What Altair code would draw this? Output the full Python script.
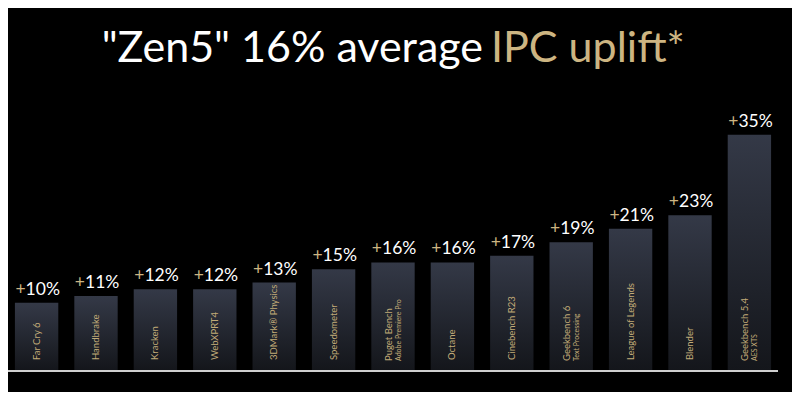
import altair as alt
import pandas as pd

benchmarks = ["Far Cry 6", "Handbrake", "Kracken", "WebXPRT4", "3DMark® Physics",
              "Speedometer", "Puget Bench", "Octane", "Cinebench R23", "Geekbench 6",
              "League of Legends", "Blender", "Geekbench 5.4"]
subtitles = ["", "", "", "", "", "", "Adobe Premiere Pro", "", "", "Text Processing",
             "", "", "AES XTS"]
uplift = [10, 11, 12, 12, 13, 15, 16, 16, 17, 19, 21, 23, 35]
title_white = ['"Zen5" 16% average']
title_gold = ['IPC uplift*']

GOLD = "#cdb582"
LABEL_GOLD = "#c2ab78"
FONT = "Lato"

df = pd.DataFrame({"bench": benchmarks, "sub": subtitles, "uplift": uplift})
df["num"] = df["uplift"].astype(str) + "%"
df["two"] = (df["sub"] != "").astype(int)
df["zero"] = 0

yscale = alt.Scale(domain=[0, 40], nice=False, zero=True)
x_enc = alt.X("bench:N", sort=None, axis=None,
              scale=alt.Scale(paddingInner=0.27, paddingOuter=0.1165))
y_enc = alt.Y("uplift:Q", axis=None, scale=yscale)
y0_enc = alt.Y("zero:Q", axis=None, scale=yscale)

base = alt.Chart(df)

bars = base.mark_bar(
    color=alt.LinearGradient(
        gradient="linear",
        stops=[alt.GradientStop(color="#343947", offset=0),
               alt.GradientStop(color="#14161b", offset=1)],
        x1=0, x2=0, y1=0, y2=1,
    )
).encode(x=x_enc, y=y_enc)

plus = base.mark_text(text="+", align="right", baseline="alphabetic", dx=-11, dy=-8,
                      color=GOLD, font=FONT, fontSize=17.5).encode(x=x_enc, y=y_enc)
nums = base.mark_text(align="left", baseline="alphabetic", dx=-11, dy=-8,
                      color="white", font=FONT, fontSize=17.5).encode(
    x=x_enc, y=y_enc, text="num:N")

single = base.transform_filter("datum.two == 0").mark_text(
    angle=270, align="left", baseline="middle", dx=10, color=LABEL_GOLD,
    font=FONT, fontSize=9.5).encode(x=x_enc, y=y0_enc, text="bench:N")
line1 = base.transform_filter("datum.two == 1").mark_text(
    angle=270, align="left", baseline="middle", dx=9, dy=-4, color=LABEL_GOLD,
    font=FONT, fontSize=9.5).encode(x=x_enc, y=y0_enc, text="bench:N")
line2 = base.transform_filter("datum.two == 1").mark_text(
    angle=270, align="left", baseline="middle", dx=9, dy=5.5, color=LABEL_GOLD,
    font=FONT, fontSize=7).encode(x=x_enc, y=y0_enc, text="sub:N")

axis_line = alt.Chart(pd.DataFrame({"zero": [0]})).mark_rule(
    color="#cfcfcf", strokeWidth=2, yOffset=1).encode(
    x=alt.value(0), x2=alt.value(770), y=y0_enc)

t1 = alt.Chart(pd.DataFrame({"t": title_white})).mark_text(
    align="right", baseline="alphabetic", font=FONT, fontSize=43, color="white").encode(
    x=alt.value(475), y=alt.value(-39), text="t:N")
t2 = alt.Chart(pd.DataFrame({"t": title_gold})).mark_text(
    align="left", baseline="alphabetic", font=FONT, fontSize=43, color=GOLD).encode(
    x=alt.value(483), y=alt.value(-39), text="t:N")

chart = alt.layer(bars, axis_line, plus, nums, single, line1, line2, t1, t2).properties(
    width=770, height=269,
    autosize=alt.AutoSizeParams(type="none"),
    padding={"left": 0, "top": 93, "right": 14, "bottom": 22},
    background="black",
).configure_view(stroke=None)

chart.save("out.html", embed_options={"renderer": "svg", "actions": False})
